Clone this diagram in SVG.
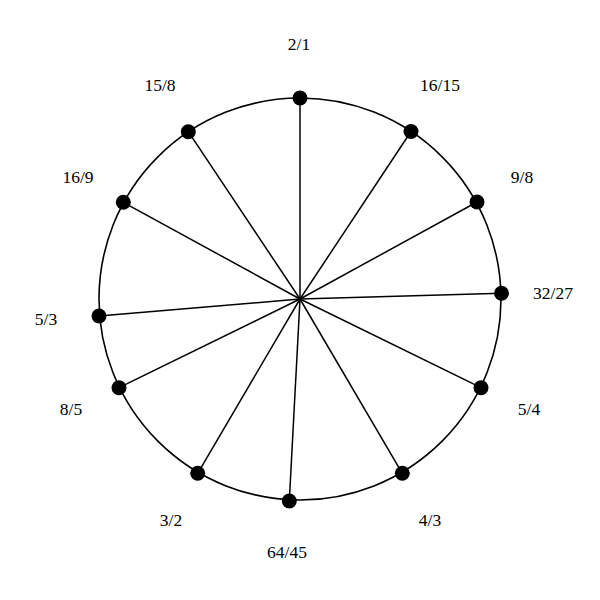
<svg xmlns="http://www.w3.org/2000/svg" width="600" height="600" viewBox="0 0 600 600">
<style>
.ring{fill:none;stroke:#000;stroke-width:1.6}
.spoke{stroke:#000;stroke-width:1.5}
.dot{fill:#000}
.lbl{font-family:"Liberation Serif","Times New Roman",serif;font-size:17.5px;fill:#000;text-anchor:middle}
</style>
<rect width="600" height="600" fill="#fff"/>
<circle class="ring" cx="300" cy="299" r="201"/>
<g id="connectors">
<line class="spoke" x1="300" y1="299" x2="300" y2="98"/>
<line class="spoke" x1="300" y1="299" x2="411" y2="131.5"/>
<line class="spoke" x1="300" y1="299" x2="477" y2="202"/>
<line class="spoke" x1="300" y1="299" x2="501.5" y2="293.3"/>
<line class="spoke" x1="300" y1="299" x2="481" y2="387.7"/>
<line class="spoke" x1="300" y1="299" x2="402.3" y2="473.3"/>
<line class="spoke" x1="300" y1="299" x2="289.3" y2="501"/>
<line class="spoke" x1="300" y1="299" x2="197.7" y2="473.3"/>
<line class="spoke" x1="300" y1="299" x2="119" y2="387.7"/>
<line class="spoke" x1="300" y1="299" x2="99" y2="316"/>
<line class="spoke" x1="300" y1="299" x2="123.3" y2="202.3"/>
<line class="spoke" x1="300" y1="299" x2="188.3" y2="131.7"/>
</g>
<g id="n-2-1"><circle class="dot" cx="300" cy="98" r="7.5"/><text class="lbl" x="299" y="50">2/1</text></g>
<g id="n-16-15"><circle class="dot" cx="411" cy="131.5" r="7.5"/><text class="lbl" x="440" y="91">16/15</text></g>
<g id="n-9-8"><circle class="dot" cx="477" cy="202" r="7.5"/><text class="lbl" x="522" y="183">9/8</text></g>
<g id="n-32-27"><circle class="dot" cx="501.5" cy="293.3" r="7.5"/><text class="lbl" x="553" y="299">32/27</text></g>
<g id="n-5-4"><circle class="dot" cx="481" cy="387.7" r="7.5"/><text class="lbl" x="529" y="415">5/4</text></g>
<g id="n-4-3"><circle class="dot" cx="402.3" cy="473.3" r="7.5"/><text class="lbl" x="430" y="526">4/3</text></g>
<g id="n-64-45"><circle class="dot" cx="289.3" cy="501" r="7.5"/><text class="lbl" x="287" y="558">64/45</text></g>
<g id="n-3-2"><circle class="dot" cx="197.7" cy="473.3" r="7.5"/><text class="lbl" x="171" y="526">3/2</text></g>
<g id="n-8-5"><circle class="dot" cx="119" cy="387.7" r="7.5"/><text class="lbl" x="71" y="415">8/5</text></g>
<g id="n-5-3"><circle class="dot" cx="99" cy="316" r="7.5"/><text class="lbl" x="46" y="325">5/3</text></g>
<g id="n-16-9"><circle class="dot" cx="123.3" cy="202.3" r="7.5"/><text class="lbl" x="78" y="183">16/9</text></g>
<g id="n-15-8"><circle class="dot" cx="188.3" cy="131.7" r="7.5"/><text class="lbl" x="160" y="91">15/8</text></g>
</svg>
